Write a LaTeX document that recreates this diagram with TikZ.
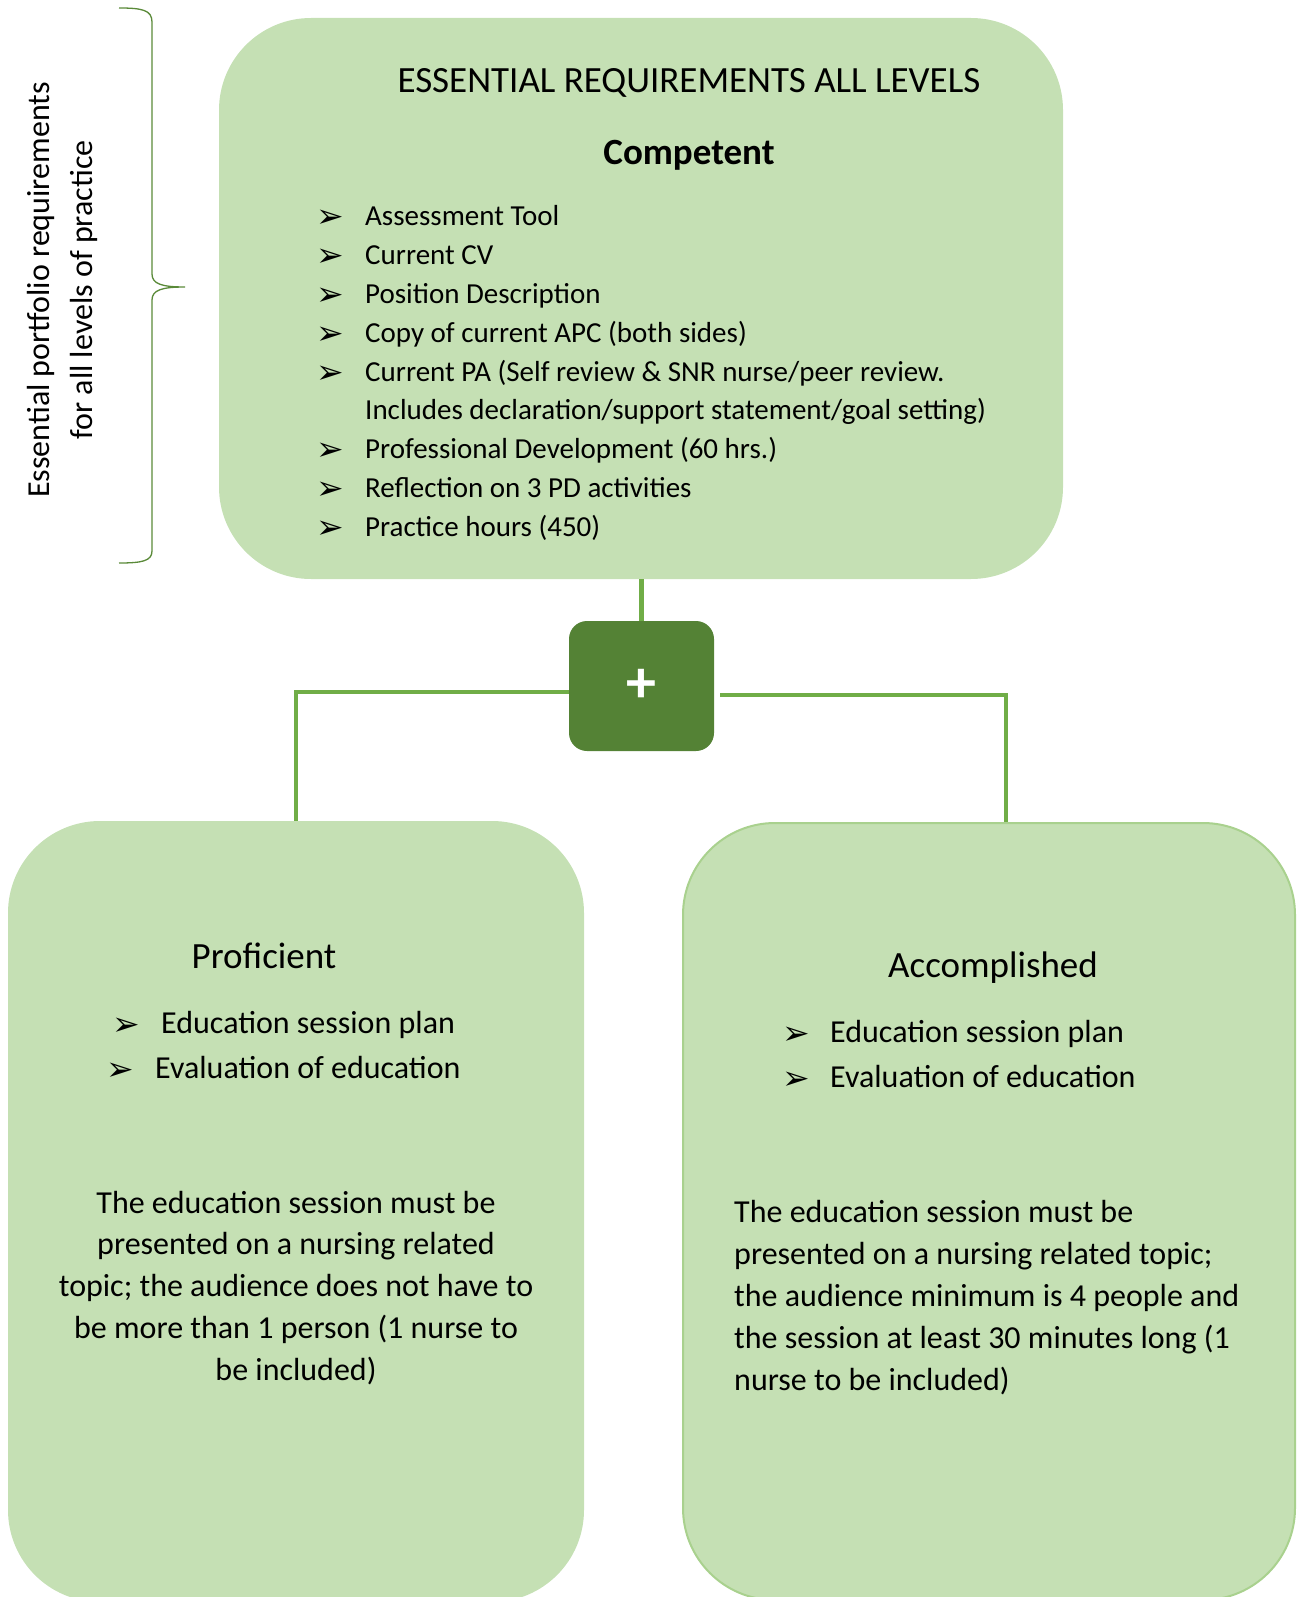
\documentclass[tikz,border=0pt]{standalone}
\usepackage{fontspec}
\setmainfont{Carlito}
\newfontfamily\dingfont{DejaVu Sans}
\usetikzlibrary{positioning}

\definecolor{boxfill}{HTML}{C5E0B4}
\definecolor{linegreen}{HTML}{70AD47}
\definecolor{plusgreen}{HTML}{548235}
\definecolor{edgegreen}{HTML}{A9D18E}

\tikzset{
  levelbox/.style = {fill=boxfill, rounded corners=92pt, inner sep=0pt},
  link/.style = {draw=linegreen, line width=4.5pt},
  bul/.style = {anchor=base west, inner sep=0pt, font=\dingfont\fontsize{33}{36}\selectfont},
  req/.style = {anchor=base west, inner sep=0pt, font=\fontsize{29}{35}\selectfont},
  sub/.style = {anchor=base west, inner sep=0pt, font=\fontsize{32}{40}\selectfont},
  para/.style = {anchor=base, inner sep=0pt, font=\fontsize{32}{40}\selectfont},
  head/.style = {anchor=base, inner sep=0pt, font=\fontsize{37}{44}\selectfont}
}

\begin{document}
\begin{tikzpicture}[x=1pt, y=-1pt]
\clip (0,0) rectangle (1298,1597);

% boxes
\node[levelbox, minimum width=844pt, minimum height=561pt] (top) at (641,298.5) {};
\node[levelbox, minimum width=576pt, minimum height=781pt] (prof) at (296,1211.5) {};
\node[levelbox, draw=edgegreen, line width=2pt, minimum width=612pt, minimum height=777pt] (acc) at (989,1211.5) {};
\node[fill=plusgreen, rounded corners=18pt, minimum width=145pt, minimum height=130pt,
  text=white, font=\bfseries\fontsize{60}{60}\selectfont, inner sep=0pt] (plus) at (641.5,686) {+};

% connectors
\draw[link] (plus.north) -- (plus.north |- top.south);
\draw[link] ([yshift=-6pt]plus.west) -| (prof.north);
\draw[link] ([shift={(6pt,-9pt)}]plus.east) -| ([xshift=17pt]acc.north);

% brace and side label
\draw[linegreen!80!black, line width=1.3pt]
  (119,8) .. controls (142,8) and (152,10) .. (152,22) -- (152,274)
  .. controls (152,284) and (162,287) .. (185,287)
  .. controls (162,287) and (152,290) .. (152,300) -- (152,551)
  .. controls (152,561) and (142,563) .. (119,563);
\node[rotate=90, align=center, inner sep=0pt, font=\fontsize{32}{43}\selectfont] (side) at (62.5,290)
  {Essential portfolio requirements\\for all levels of practice};

% competent
\node[anchor=base, inner sep=0pt, font=\fontsize{37}{42}\selectfont] (title) at (689,93)
  {ESSENTIAL REQUIREMENTS ALL LEVELS};
\node[anchor=base, inner sep=0pt, font=\bfseries\fontsize{37}{44}\selectfont] (comp) at (689,165) {Competent};
\foreach \k/\txt in {0/{Assessment Tool}, 1/{Current CV}, 2/{Position Description},
    3/{Copy of current APC (both sides)}, 4/{Current PA (Self review \& SNR nurse/peer review.},
    6/{Professional Development (60 hrs.)}, 7/{Reflection on 3 PD activities}, 8/{Practice hours (450)}} {
  \node[bul] (bul\k) at (316,228+38.75*\k) {➢};
  \node[req] (req\k) at (365,226+38.75*\k) {\txt};
}
\node[req] (req5) at (365,226+38.75*5) {Includes declaration/support statement/goal setting)};

% proficient
\node[head] (profhead) at (264,968) {Proficient};
\node[bul] (pb1) at (112,1035) {➢};
\node[sub] (pt1) at (161,1033) {Education session plan};
\node[bul] (pb2) at (106,1080) {➢};
\node[sub] (pt2) at (155,1078) {Evaluation of education};
\foreach \txt [count=\i from 0] in {The education session must be, presented on a nursing related,
    topic; the audience does not have to, be more than 1 person (1 nurse to, be included)}
  \node[para] (pp\i) at (296,1213+41.9*\i) {\txt};

% accomplished
\node[head] (acchead) at (993,977) {Accomplished};
\node[bul] (ab1) at (782,1044) {➢};
\node[sub] (at1) at (830,1042) {Education session plan};
\node[bul] (ab2) at (782,1089) {➢};
\node[sub] (at2) at (830,1087) {Evaluation of education};
\foreach \txt [count=\i from 0] in {The education session must be, presented on a nursing related topic;,
    the audience minimum is 4 people and, the session at least 30 minutes long (1, nurse to be included)}
  \node[sub] (ap\i) at (734,1222+42.2*\i) {\txt};
\end{tikzpicture}
\end{document}
